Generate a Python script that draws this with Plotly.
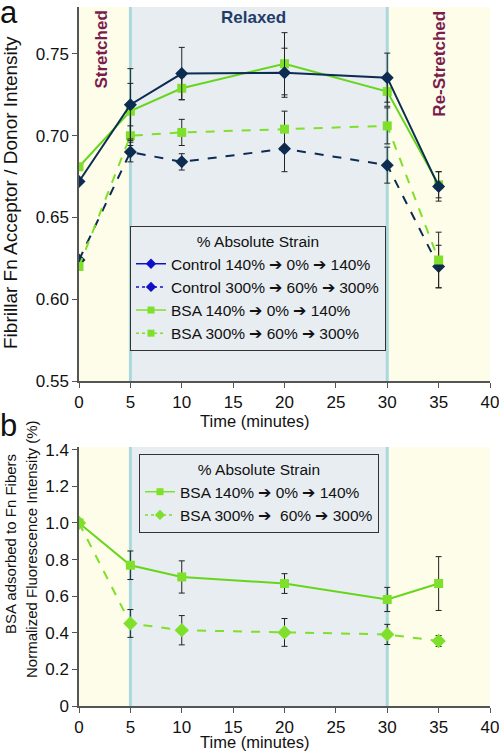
import plotly.graph_objects as go

# ---- data: panel a ----
time_a = [0, 5, 10, 20, 30, 35]
ctrl140 = [0.672, 0.719, 0.738, 0.7385, 0.7355, 0.669]
ctrl140_err = [0.0, 0.022, 0.016, 0.015, 0.015, 0.009]
ctrl300 = [0.624, 0.690, 0.684, 0.692, 0.682, 0.620]
ctrl300_err = [0.0, 0.006, 0.005, 0.014, 0.011, 0.013]
bsa140 = [0.681, 0.715, 0.729, 0.744, 0.727, 0.670]
bsa140_err = [0.0, 0.017, 0.007, 0.019, 0.009, 0.008]
bsa300 = [0.620, 0.700, 0.702, 0.704, 0.706, 0.624]
bsa300_err = [0.0, 0.006, 0.008, 0.011, 0.011, 0.017]

# ---- data: panel b ----
time_b = [0, 5, 10, 20, 30, 35]
b140 = [1.0, 0.769, 0.705, 0.669, 0.582, 0.669]
b140_err = [0.0, 0.078, 0.088, 0.054, 0.066, 0.147]
b300 = [1.0, 0.451, 0.414, 0.402, 0.391, 0.355]
b300_err = [0.0, 0.076, 0.08, 0.076, 0.055, 0.03]

xticks = [0, 5, 10, 15, 20, 25, 30, 35, 40]
yticks_a = [0.55, 0.60, 0.65, 0.70, 0.75]
yticks_b = [0, 0.2, 0.4, 0.6, 0.8, 1.0, 1.2, 1.4]
yticks_b_text = ["0", "0.2", "0.4", "0.6", "0.8", "1.0", "1.2", "1.4"]

NAVY = "#0c2c52"
BLUE = "#1010c8"
GREEN = "#66d61a"
GREEN_L = "#7ee02a"
ERR = "#222222"
FONT = "Liberation Sans, Arial, sans-serif"

ARW = " \u2794 "

fig = go.Figure()

def err(vals):
    return dict(type="data", array=vals, visible=True, color=ERR, thickness=1, width=3)

# panel a traces
fig.add_trace(go.Scatter(x=time_a, y=ctrl300, error_y=err(ctrl300_err), mode="lines+markers",
                         line=dict(color=NAVY, width=2, dash="dash"),
                         marker=dict(symbol="diamond", size=10, color=NAVY),
                         showlegend=False, xaxis="x", yaxis="y"))
fig.add_trace(go.Scatter(x=time_a, y=bsa300, error_y=err(bsa300_err), mode="lines+markers",
                         line=dict(color=GREEN_L, width=2, dash="dash"),
                         marker=dict(symbol="square", size=9, color=GREEN_L),
                         showlegend=False, xaxis="x", yaxis="y"))
fig.add_trace(go.Scatter(x=time_a, y=bsa140, error_y=err(bsa140_err), mode="lines+markers",
                         line=dict(color=GREEN, width=2),
                         marker=dict(symbol="square", size=9, color=GREEN_L),
                         showlegend=False, xaxis="x", yaxis="y"))
fig.add_trace(go.Scatter(x=time_a, y=ctrl140, error_y=err(ctrl140_err), mode="lines+markers",
                         line=dict(color=NAVY, width=2),
                         marker=dict(symbol="diamond", size=10, color=NAVY),
                         showlegend=False, xaxis="x", yaxis="y"))

# legend entries panel a
leg_a = [
    ("Control 140%" + ARW + "0%" + ARW + "140%", BLUE, "solid", "diamond", 8),
    ("Control 300%" + ARW + "60%" + ARW + "300%", BLUE, "dot", "diamond", 8),
    ("BSA 140%" + ARW + "0%" + ARW + "140%", GREEN_L, "solid", "square", 7),
    ("BSA 300%" + ARW + "60%" + ARW + "300%", GREEN_L, "dot", "square", 7),
]
for name, c, d, s, sz in leg_a:
    fig.add_trace(go.Scatter(x=[None], y=[None], mode="lines+markers", name=name,
                             line=dict(color=c, width=1.5, dash=d),
                             marker=dict(symbol=s, size=sz, color=c),
                             legend="legend", xaxis="x", yaxis="y"))

# panel b traces
fig.add_trace(go.Scatter(x=time_b, y=b140, error_y=err(b140_err), mode="lines+markers",
                         showlegend=False,
                         line=dict(color=GREEN, width=2),
                         marker=dict(symbol="square", size=9, color=GREEN_L),
                         xaxis="x2", yaxis="y2"))
fig.add_trace(go.Scatter(x=time_b, y=b300, error_y=err(b300_err), mode="lines+markers",
                         showlegend=False,
                         line=dict(color=GREEN_L, width=2, dash="dash"),
                         marker=dict(symbol="diamond", size=11, color=GREEN_L),
                         xaxis="x2", yaxis="y2"))
leg_b = [
    ("BSA 140%" + ARW + "0%" + ARW + "140%", GREEN_L, "solid", "square", 7),
    ("BSA 300%" + ARW + " 60%" + ARW + "300%", GREEN_L, "dot", "diamond", 8),
]
for name, c, d, s, sz in leg_b:
    fig.add_trace(go.Scatter(x=[None], y=[None], mode="lines+markers", name=name,
                             line=dict(color=c, width=1.5, dash=d),
                             marker=dict(symbol=s, size=sz, color=c),
                             legend="legend2", xaxis="x2", yaxis="y2"))

YELLOW = "#fefdea"
GREY = "#e8edf2"
VLINE = "#aad8de"
shapes = []
for xr, yr in (("x", "y domain"), ("x2", "y2 domain")):
    shapes += [
        dict(type="rect", xref=xr, yref=yr, x0=0, x1=5, y0=0, y1=1, fillcolor=YELLOW, line_width=0, layer="below"),
        dict(type="rect", xref=xr, yref=yr, x0=5, x1=30, y0=0, y1=1, fillcolor=GREY, line_width=0, layer="below"),
        dict(type="rect", xref=xr, yref=yr, x0=30, x1=40, y0=0, y1=1, fillcolor=YELLOW, line_width=0, layer="below"),
        dict(type="line", xref=xr, yref=yr, x0=5, x1=5, y0=0, y1=1, line=dict(color=VLINE, width=3), layer="below"),
        dict(type="line", xref=xr, yref=yr, x0=30, x1=30, y0=0, y1=1, line=dict(color=VLINE, width=3), layer="below"),
    ]

axis_common = dict(showline=True, linecolor="#555555", linewidth=1.5, ticks="outside", ticklen=5,
                   tickcolor="#555555", showgrid=False, zeroline=False, automargin=False,
                   ticklabeloverflow="allow",
                   tickfont=dict(size=17, color="#111111", family=FONT))

# plot area in pixels: left 79, right 490, top 7, bottom 706
W, H = 499, 751
L, R, T, B = 79, 9, 7, 45
PW, PH = W - L - R, H - T - B

def px_x(px):
    return (px - L) / PW

def px_y(py):
    return (H - B - py) / PH

legend_common = dict(xanchor="left", yanchor="top", bgcolor=GREY,
                     bordercolor="#333333", borderwidth=1,
                     title=dict(text="% Absolute Strain", side="top center", font=dict(size=15.5)),
                     font=dict(size=15.5), tracegroupgap=0, itemwidth=30)

def ann(text, x, y, size, color="#111111", angle=0, xa="center", ya="middle", xref="paper"):
    return dict(text=text, xref=xref, yref="paper", x=x, y=y, xanchor=xa, yanchor=ya,
                textangle=angle, showarrow=False, font=dict(size=size, color=color))

fig.update_layout(
    width=W, height=H,
    margin=dict(l=L, r=R, t=T, b=B),
    paper_bgcolor="white", plot_bgcolor="white",
    font=dict(family=FONT, color="#111111", size=16),
    shapes=shapes,
    xaxis=dict(domain=[0, 1], range=[0, 40], tickvals=xticks, anchor="y", **axis_common),
    yaxis=dict(domain=[px_y(381), 1.0], range=[0.55, 0.7787], tickvals=yticks_a, tickformat=".2f",
               anchor="x", **axis_common),
    xaxis2=dict(domain=[0, 1], range=[0, 40], tickvals=xticks, anchor="y2", **axis_common),
    yaxis2=dict(domain=[0, px_y(447)], range=[0, 1.415], tickvals=yticks_b, ticktext=yticks_b_text,
                anchor="x2", **axis_common),
    legend=dict(x=px_x(130), y=px_y(226), **legend_common),
    legend2=dict(x=px_x(139), y=px_y(454), **legend_common),
    annotations=[
        ann("a", px_x(9), px_y(13), 31),
        ann("b", px_x(8), px_y(425), 31),
        ann("Fibrillar Fn Acceptor / Donor Intensity", px_x(10), px_y(193), 19, angle=-90),
        ann("BSA adsorbed to Fn Fibers", px_x(10), px_y(544), 15, angle=-90),
        ann("Normalized Fluorescence Intensity (%)", px_x(31), px_y(549), 15, angle=-90),
        ann("Time (minutes)", px_x(254), px_y(421), 16.5),
        ann("Time (minutes)", px_x(254), px_y(742), 16.5),
        ann("<b>Stretched</b>", 2.2, px_y(50), 17, "#7a1c4e", -90, xref="x"),
        ann("<b>Relaxed</b>", 17.0, px_y(18), 17, "#1f3d68", xref="x"),
        ann("<b>Re-Stretched</b>", 35.1, px_y(64), 17, "#7a1c4e", -90, xref="x"),
    ],
)

fig.write_html("out.html", config={"displayModeBar": False},
               post_script="document.body.style.margin='0';document.body.style.padding='0';")
